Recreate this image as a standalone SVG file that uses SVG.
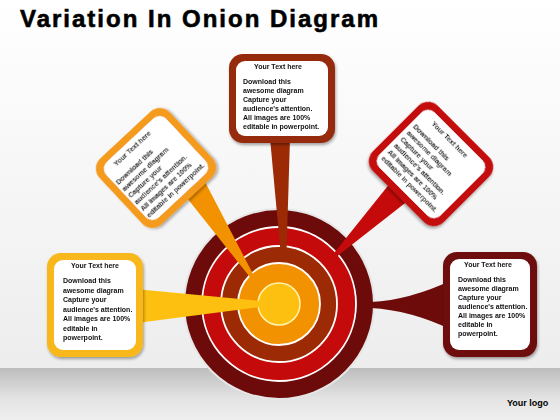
<svg xmlns="http://www.w3.org/2000/svg" width="560" height="420" viewBox="0 0 560 420">
<defs>
<linearGradient id="bg" x1="0" y1="0" x2="0" y2="1">
<stop offset="0" stop-color="#ffffff"/>
<stop offset="1" stop-color="#ededed"/>
</linearGradient>
<linearGradient id="floor" x1="0" y1="0" x2="0" y2="1">
<stop offset="0" stop-color="#bdbdbd"/>
<stop offset="0.6" stop-color="#e4e4e4"/>
<stop offset="1" stop-color="#efefef"/>
</linearGradient>
<filter id="sh" x="-20%" y="-20%" width="140%" height="140%">
<feDropShadow dx="1" dy="2" stdDeviation="1.8" flood-color="#000" flood-opacity="0.35"/>
</filter>
<style>
.hdr{font-family:"Liberation Sans",Arial,sans-serif;font-weight:bold;font-size:7px;fill:#111;text-anchor:middle}
.body{font-family:"Liberation Sans",Arial,sans-serif;font-weight:bold;font-size:7px;fill:#111}
.ring{stroke:#ffffff;stroke-width:1.8}
.inner{fill:#ffffff}
</style>
</defs>

<rect x="0" y="0" width="560" height="368" fill="url(#bg)"/>
<rect x="0" y="368" width="560" height="52" fill="url(#floor)"/>

<text x="20" y="27" font-family="Liberation Sans, Arial, sans-serif" font-weight="bold" font-size="24" fill="#000" stroke="#000" stroke-width="0.6" textLength="358" lengthAdjust="spacing">Variation In Onion Diagram</text>

<g id="onion">
<circle cx="279" cy="304" r="95" fill="#6d0b0b" stroke="#e6e6e6" stroke-width="2"/>
<circle cx="279" cy="304" r="77" fill="#c40a0a" class="ring"/>
<circle cx="279" cy="304" r="58" fill="#9b2a05" class="ring"/>
<circle cx="279" cy="304" r="41" fill="#f39200" class="ring"/>
<circle cx="279" cy="304" r="21" fill="#fdc010" stroke="#fff3b0" stroke-width="1.5"/>
</g>

<g id="connectors">
<path d="M452,280 Q410,300 371,302 L371,308 Q410,310 452,330 Z" fill="#6d0b0b"/>
<polygon points="411.2,198.2 336.3,256.9 333.3,253.9 392.8,179.8" fill="#c40a0a"/>
<polygon points="270,138 290,138 286.6,249.5 280.3,249.5" fill="#9b2a05"/>
<polygon points="203,178 253.8,275.5 250.9,278.3 183,193" fill="#f39200"/>
<polygon points="135,289 261,301.1 261,306.9 135,323.3" fill="#fdc010"/>
</g>

<g id="box-top" filter="url(#sh)">
<rect x="229" y="54" width="106" height="89" rx="14" fill="#962b0c"/>
<rect x="236" y="61" width="92" height="75" rx="9" class="inner"/>
<text class="hdr" x="278" y="69">Your Text here</text>
<text class="body" x="243" y="84">Download this</text>
<text class="body" x="243" y="93">awesome diagram</text>
<text class="body" x="243" y="102">Capture your</text>
<text class="body" x="243" y="111">audience's attention.</text>
<text class="body" x="243" y="120">All images are 100%</text>
<text class="body" x="243" y="129">editable in powerpoint.</text>
</g>

<g id="box-topleft" filter="url(#sh)" transform="translate(156,168) rotate(-43)">
<rect x="-48" y="-45" width="96" height="90" rx="14" fill="#f49a1a"/>
<rect x="-41" y="-38" width="82" height="76" rx="9" class="inner"/>
<text class="hdr" x="-4" y="-28">Your Text here</text>
<text class="body" x="-39" y="-13.5">Download this</text>
<text class="body" x="-39" y="-4.4">awesome diagram</text>
<text class="body" x="-39" y="4.7">Capture your</text>
<text class="body" x="-39" y="13.8">audience's attention.</text>
<text class="body" x="-39" y="22.9">All images are 100%</text>
<text class="body" x="-39" y="32">editable in powerpoint.</text>
</g>

<g id="box-topright" filter="url(#sh)" transform="translate(431,164) rotate(45)">
<rect x="-50" y="-46" width="100" height="92" rx="14" fill="#c40a0a"/>
<rect x="-43" y="-39" width="86" height="78" rx="9" class="inner"/>
<text class="hdr" x="-4" y="-28">Your Text here</text>
<text class="body" x="-39" y="-13.5">Download this</text>
<text class="body" x="-39" y="-4.4">awesome diagram</text>
<text class="body" x="-39" y="4.7">Capture your</text>
<text class="body" x="-39" y="13.8">audience's attention.</text>
<text class="body" x="-39" y="22.9">All images are 100%</text>
<text class="body" x="-39" y="32">editable in powerpoint.</text>
</g>

<g id="box-left" filter="url(#sh)">
<rect x="47" y="253" width="96" height="104" rx="14" fill="#f8b81a"/>
<rect x="54" y="260" width="82" height="90" rx="9" class="inner"/>
<text class="hdr" x="95" y="268">Your Text here</text>
<text class="body" x="63" y="283">Download this</text>
<text class="body" x="63" y="292.5">awesome diagram</text>
<text class="body" x="63" y="302">Capture your</text>
<text class="body" x="63" y="311.5">audience's attention.</text>
<text class="body" x="63" y="321">All images are 100%</text>
<text class="body" x="63" y="330.5">editable in</text>
<text class="body" x="63" y="340">powerpoint.</text>
</g>

<g id="box-right" filter="url(#sh)">
<rect x="443" y="252" width="94" height="105" rx="14" fill="#6d0b0b"/>
<rect x="450" y="259" width="80" height="91" rx="9" class="inner"/>
<text class="hdr" x="488" y="267">Your Text here</text>
<text class="body" x="458" y="282">Download this</text>
<text class="body" x="458" y="291">awesome diagram</text>
<text class="body" x="458" y="300">Capture your</text>
<text class="body" x="458" y="309">audience's attention.</text>
<text class="body" x="458" y="318">All images are 100%</text>
<text class="body" x="458" y="327">editable in</text>
<text class="body" x="458" y="336">powerpoint.</text>
</g>

<text x="507" y="406" font-family="Liberation Sans, Arial, sans-serif" font-weight="bold" font-size="9" fill="#000">Your logo</text>
</svg>
